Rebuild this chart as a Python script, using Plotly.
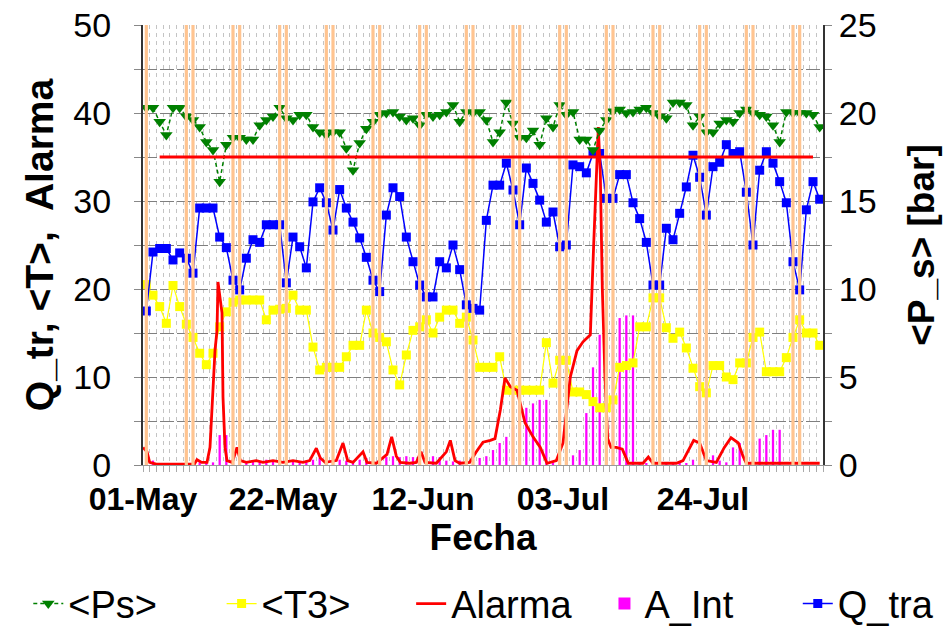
import pandas as pd
import plotly.graph_objects as go

START = "2005-05-01"
N_DAYS = 102
dates = pd.date_range(START + " 12:00", periods=N_DAYS, freq="D")

# <Ps> (right axis, bar)
ps = [20.3, 20.3, 19.5, 18.75, 20.3, 20.3, 19.8, 19.6, 19.2, 18.35,
      17.9, 16.1, 18.2, 18.6, 18.6, 18.5, 18.5, 19.3, 19.6, 19.8,
      20.3, 19.7, 19.6, 19.9, 19.9, 19.2, 18.9, 18.75, 18.9, 18.9,
      18.0, 16.75, 18.3, 19.1, 19.5, 19.9, 20.0, 20.06, 19.8, 19.6,
      19.7, 19.3, 19.9, 19.8, 19.9, 20.06, 20.45, 19.5, 20.06, 20.0,
      20.06, 19.6, 18.35, 18.9, 20.6, 19.4, 18.6, 18.6, 19.0, 18.2,
      19.7, 19.2, 20.45, 19.9, 20.06, 18.5, 18.5, 17.9, 19.0, 19.6,
      20.1, 20.2, 20.0, 20.06, 20.2, 20.3, 20.0, 19.8, 19.7, 20.6,
      20.6, 20.45, 19.3, 19.8, 18.9, 18.9, 19.4, 19.6, 19.5, 20.0,
      20.2, 20.0, 19.9, 19.8, 19.3, 18.35, 20.06, 20.0, 20.0, 20.0,
      19.9, 19.2]

# <T3>
t3 = [20.5, 19.3, 18.0, 16.1, 20.4, 18.0, 16.0, 14.5, 12.7, 11.4,
      12.7, 15.7, 17.4, 18.5, 18.75, 18.75, 18.75, 18.75, 16.5, 17.6,
      17.7, 17.8, 19.3, 17.6, 17.6, 13.4, 10.8, 11.1, 11.1, 11.1,
      12.3, 13.6, 13.6, 17.6, 15.0, 14.5, 14.0, 10.8, 9.1, 12.5,
      15.3, 15.7, 16.5, 15.0, 16.8, 17.6, 17.6, 16.1, 16.8, 14.2,
      11.1, 11.1, 11.1, 12.3, 8.5, 8.5, 8.5, 8.5, 8.5, 8.5,
      13.9, 9.3, 11.9, 11.9, 8.3, 8.3, 8.0, 7.2, 6.5, 6.5,
      7.4, 11.1, 11.3, 11.6, 15.7, 15.7, 19.0, 19.0, 15.6, 14.4,
      15.1, 13.3, 11.0, 8.9, 8.2, 11.3, 11.3, 10.0, 9.7, 11.6,
      11.6, 14.5, 15.1, 10.6, 10.6, 10.6, 12.2, 14.5, 16.5, 15.0,
      15.0, 13.6]

# Q_tra
q_tra = [17.5, 24.2, 24.6, 24.6, 23.3, 24.1, 23.5, 21.8, 29.2, 29.2,
         29.2, 25.9, 24.7, 21.0, 19.9, 23.5, 25.6, 25.3, 27.3, 27.3,
         27.3, 20.7, 25.9, 24.8, 22.4, 29.9, 31.5, 29.8, 26.7, 31.3,
         29.2, 27.6, 25.8, 23.6, 21.0, 19.7, 28.4, 31.5, 30.5, 25.9,
         23.1, 20.45, 19.1, 19.1, 23.1, 22.4, 25.0, 22.2, 18.2, 17.8,
         17.6, 27.8, 31.8, 31.8, 34.3, 31.25, 27.3, 33.75, 32.0, 30.1,
         27.6, 28.75, 24.8, 25.0, 34.1, 33.9, 33.2, 35.4, 35.4, 30.3,
         30.3, 33.0, 33.0, 29.8, 28.0, 25.3, 20.45, 20.45, 26.9, 25.6,
         28.6, 31.6, 35.2, 32.7, 28.4, 33.9, 34.4, 36.4, 35.4, 35.6,
         31.0, 25.0, 33.5, 35.6, 34.3, 32.2, 29.8, 23.1, 19.9, 29.0,
         32.2, 30.2]

# A_Int
a_int = [0.5, 0.5, 0.2, 0.2, 0.2, 0.2, 0.2, 0.2, 0.3, 0.2,
         0.3, 3.4, 3.4, 0.3, 0.8, 0.3, 0.5, 0.4, 0.6, 0.5,
         0.3, 0.4, 0.5, 0.3, 0.5, 0.6, 0.8, 0.5, 0.4, 0.6,
         0.5, 0.4, 0.6, 0.8, 0.5, 0.6, 0.9, 1.0, 0.9, 1.0,
         0.9, 1.0, 0.8, 1.0, 0.9, 0.5, 0.4, 0.5, 0.4, 0.6,
         0.8, 1.0, 1.7, 2.5, 3.2, 4.3, 6.8, 6.5, 7.0, 7.4,
         7.4, 0.3, 0.3, 0.5, 1.1, 1.7, 5.9, 11.1, 14.8, 15.5,
         16.5, 16.7, 17.0, 17.0, 0.2, 0.2, 0.5, 0.2, 0.3, 0.2,
         0.2, 0.2, 0.6, 0.3, 1.1, 1.1, 0.5, 0.3, 2.0, 2.5,
         2.5, 2.6, 3.0, 3.4, 4.0, 4.0, 0.0, 0.0, 0.0, 0.0,
         0.0, 0.0]

# Alarma (sub-daily readings: days since 01-May, value)
alarma_points = [
    (0.0, 2.0), (0.6, 1.5), (1.0, 0.3), (2.0, 0.1), (7.7, 0.1), (8.1, 0.6),
    (8.8, 0.3), (9.6, 0.3), (10.05, 2.0), (10.5, 9.7), (10.8, 13.0), (11.1, 15.3),
    (11.25, 20.8), (11.55, 19.0), (11.85, 17.3), (12.0, 7.7), (12.3, 2.0), (12.6, 0.5),
    (13.4, 0.3), (14.1, 2.0), (14.6, 0.5), (15.5, 0.3), (17.0, 0.5), (18.0, 0.3),
    (19.5, 0.5), (21.0, 0.3), (22.5, 0.5), (24.0, 0.3), (25.0, 0.5), (26.0, 1.9),
    (26.6, 0.8), (27.3, 0.3), (29.0, 0.5), (30.0, 2.5), (30.7, 0.5), (31.5, 0.3),
    (33.0, 1.5), (33.6, 0.3), (35.0, 0.2), (36.6, 1.2), (37.3, 3.2), (38.0, 1.0),
    (38.6, 0.3), (40.0, 0.2), (41.0, 0.3), (41.7, 1.5), (42.3, 0.3), (44.0, 0.2),
    (45.5, 1.5), (46.1, 2.8), (46.8, 0.5), (47.5, 0.2), (49.0, 0.3), (50.0, 1.5),
    (51.0, 2.6), (52.1, 2.8), (52.8, 3.0), (53.6, 6.25), (54.3, 9.9), (55.1, 8.9),
    (56.1, 8.5), (57.3, 4.8), (58.5, 3.2), (59.6, 2.0), (60.6, 0.2), (62.0, 0.5),
    (63.0, 2.5), (64.1, 10.0), (65.1, 13.0), (66.0, 14.0), (67.1, 14.8), (67.6, 25.0),
    (68.0, 34.0), (68.3, 38.4), (68.6, 33.0), (68.9, 20.0), (69.3, 10.0), (69.7, 3.0),
    (70.2, 2.0), (71.0, 2.0), (71.9, 1.8), (72.8, 0.2), (75.0, 0.2), (75.8, 0.9),
    (76.5, 0.2), (80.0, 0.2), (81.0, 0.5), (81.9, 1.7), (82.6, 2.8), (83.5, 2.5),
    (84.5, 0.5), (86.0, 0.3), (87.2, 2.0), (88.2, 3.1), (89.3, 2.5), (90.0, 1.0),
    (90.5, 0.2), (101.5, 0.2),
]
alarma_day = [p[0] for p in alarma_points]
alarma_val = [p[1] for p in alarma_points]
alarma_x = pd.Timestamp(START) + pd.to_timedelta(alarma_day, unit="D")

# Alarm threshold line
threshold_value = 35
threshold_first_idx = 2
threshold_last_idx = 100

# Weekend markers (orange)
weekend_marks = ["2005-05-01 12:00",
                 "2005-05-07 12:00", "2005-05-08 12:00", "2005-05-14 12:00", "2005-05-15 12:00",
                 "2005-05-21 12:00", "2005-05-22 12:00", "2005-05-28 12:00", "2005-05-29 12:00",
                 "2005-06-04 12:00", "2005-06-05 12:00", "2005-06-11 12:00", "2005-06-12 12:00",
                 "2005-06-18 12:00", "2005-06-19 12:00", "2005-06-25 12:00", "2005-06-26 12:00",
                 "2005-07-02 12:00", "2005-07-03 12:00", "2005-07-09 12:00", "2005-07-10 12:00",
                 "2005-07-16 12:00", "2005-07-17 12:00", "2005-07-23 12:00", "2005-07-24 12:00",
                 "2005-07-30 12:00", "2005-07-31 12:00", "2005-08-06 12:00", "2005-08-07 12:00"]

tick_dates = ["2005-05-01", "2005-05-22", "2005-06-12", "2005-07-03", "2005-07-24"]
tick_labels = ["01-May", "22-May", "12-Jun", "03-Jul", "24-Jul"]
x_end = "2005-08-11"

FONT = "Liberation Sans, Arial, sans-serif"
DAY_MS = 86400000

fig = go.Figure()
fig.add_trace(go.Bar(x=dates, y=a_int, name="A_Int", width=0.34 * DAY_MS,
                     marker=dict(color="#FF00FF", line=dict(width=0)),
                     legend="legend4", yaxis="y"))
fig.add_trace(go.Scatter(x=dates, y=t3, name="&lt;T3&gt;", mode="lines+markers",
                         line=dict(color="#FFFF00", width=1.2),
                         marker=dict(symbol="square", size=9, color="#FFFF00", line=dict(width=0)),
                         legend="legend2", yaxis="y"))
fig.add_trace(go.Scatter(x=dates, y=q_tra, name="Q_tra", mode="lines+markers",
                         line=dict(color="#0000FF", width=1.5),
                         marker=dict(symbol="square", size=9, color="#0000FF", line=dict(width=0)),
                         legend="legend5", yaxis="y"))
fig.add_trace(go.Scatter(x=alarma_x, y=alarma_val, name="Alarma", mode="lines",
                         line=dict(color="#FF0000", width=2.8),
                         legend="legend3", yaxis="y"))
fig.add_trace(go.Scatter(x=dates, y=ps, name="&lt;Ps&gt;", mode="lines+markers",
                         line=dict(color="#008000", width=1.5, dash="4px,3px"),
                         marker=dict(symbol="triangle-down", size=11, color="#008000", line=dict(width=0)),
                         legend="legend", yaxis="y2"))

shapes = []
for w in weekend_marks:
    shapes.append(dict(type="line", xref="x", yref="paper", x0=w, x1=w, y0=0, y1=1,
                       line=dict(color="#FFC490", width=3.2), layer="above"))
shapes.append(dict(type="line", xref="x", yref="y",
                   x0=dates[threshold_first_idx], x1=dates[threshold_last_idx],
                   y0=threshold_value, y1=threshold_value,
                   line=dict(color="#FF0000", width=3), layer="above"))


def legend_box(x):
    return dict(orientation="h", xref="container", yref="container",
                x=x, xanchor="left", y=0.046, yanchor="middle",
                font=dict(size=38, family=FONT), bgcolor="rgba(0,0,0,0)",
                itemsizing="trace")


fig.update_layout(
    width=943, height=633, autosize=False,
    margin=dict(l=143, r=120, t=25, b=168, autoexpand=False),
    paper_bgcolor="white", plot_bgcolor="white",
    font=dict(family=FONT, color="black"),
    barmode="overlay",
    shapes=shapes,
    showlegend=True,
    legend=legend_box(0.030),
    legend2=legend_box(0.235),
    legend3=legend_box(0.436),
    legend4=legend_box(0.641),
    legend5=legend_box(0.846),
    xaxis=dict(type="date", range=[START, x_end],
               tickvals=tick_dates, ticktext=tick_labels,
               tickfont=dict(size=32, family=FONT, weight="bold"),
               ticks="outside", ticklen=6, tickcolor="#aaaaaa",
               showgrid=True, gridcolor="#c4c4c4", griddash="4px,4px", gridwidth=1,
               minor=dict(dtick=DAY_MS, tick0=START, ticks="outside", ticklen=6,
                          tickcolor="#aaaaaa", showgrid=True, gridcolor="#c4c4c4",
                          griddash="4px,4px", gridwidth=1),
               showline=True, linecolor="#999999", linewidth=1, zeroline=False,
               title=dict(text="Fecha", font=dict(size=37, family=FONT, weight="bold"),
                          standoff=5)),
    yaxis=dict(range=[0, 50], dtick=10, tick0=0,
               tickfont=dict(size=34, family=FONT),
               ticks="outside", ticklen=7, tickcolor="#888888", ticklabelstandoff=16,
               showgrid=True, gridcolor="#7f7f7f", griddash="14px,3px", gridwidth=1,
               minor=dict(dtick=5, ticks="outside", ticklen=7, tickcolor="#888888",
                          showgrid=True, gridcolor="#7f7f7f", griddash="14px,3px", gridwidth=1),
               showline=True, linecolor="#333333", linewidth=2, zeroline=False,
               title=dict(text="Q_tr, &lt;T&gt;,  Alarma",
                          font=dict(size=39, family=FONT, weight="bold"), standoff=8)),
    yaxis2=dict(range=[0, 25], dtick=5, tick0=0, overlaying="y", side="right",
                tickfont=dict(size=34, family=FONT),
                ticks="outside", ticklen=7, tickcolor="#888888",
                minor=dict(dtick=2.5, ticks="outside", ticklen=7, tickcolor="#888888", showgrid=False),
                showgrid=False, showline=True, linecolor="#333333", linewidth=2, zeroline=False,
                title=dict(text="&lt;P_s&gt; [bar]",
                           font=dict(size=37, family=FONT, weight="bold"), standoff=32)),
)

fig.write_html("out.html", post_script="document.body.style.margin='0';",
               config={"displayModeBar": False})
